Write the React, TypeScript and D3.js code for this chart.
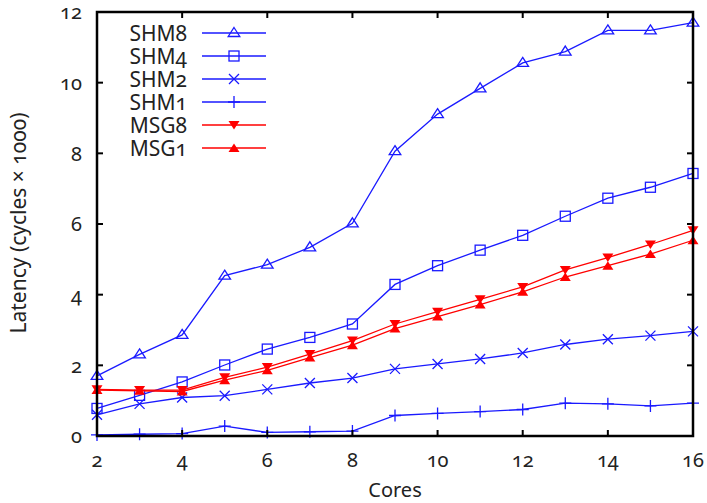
import React from "react";
import * as d3 from "d3";

const cores = [2, 3, 4, 5, 6, 7, 8, 9, 10, 11, 12, 13, 14, 15, 16];
const shm8 = [1.7, 2.31, 2.86, 4.54, 4.85, 5.34, 6.02, 8.06, 9.11, 9.84, 10.56, 10.88, 11.48, 11.48, 11.7];
const shm4 = [0.78, 1.15, 1.53, 2.01, 2.46, 2.79, 3.17, 4.29, 4.82, 5.26, 5.68, 6.22, 6.73, 7.04, 7.43];
const shm2 = [0.6, 0.91, 1.09, 1.14, 1.32, 1.5, 1.64, 1.9, 2.04, 2.18, 2.35, 2.59, 2.74, 2.84, 2.96];
const shm1 = [0.03, 0.05, 0.07, 0.28, 0.1, 0.12, 0.14, 0.58, 0.64, 0.69, 0.75, 0.93, 0.91, 0.85, 0.93];
const msg8 = [1.32, 1.3, 1.3, 1.66, 1.95, 2.32, 2.7, 3.17, 3.52, 3.87, 4.22, 4.7, 5.05, 5.42, 5.82];
const msg1 = [1.3, 1.28, 1.26, 1.58, 1.86, 2.22, 2.57, 3.04, 3.38, 3.72, 4.08, 4.5, 4.82, 5.15, 5.54];

const xTicks = [2, 4, 6, 8, 10, 12, 14, 16];
const yTicks = [0, 2, 4, 6, 8, 10, 12];

type Marker = "tri" | "square" | "cross" | "plus" | "triDownFill" | "triUpFill";

const seriesList: { name: string; values: number[]; color: string; marker: Marker }[] = [
  { name: "SHM8", values: shm8, color: "#1a1aff", marker: "tri" },
  { name: "SHM4", values: shm4, color: "#1a1aff", marker: "square" },
  { name: "SHM2", values: shm2, color: "#1a1aff", marker: "cross" },
  { name: "SHM1", values: shm1, color: "#1a1aff", marker: "plus" },
  { name: "MSG8", values: msg8, color: "#ff0000", marker: "triDownFill" },
  { name: "MSG1", values: msg1, color: "#ff0000", marker: "triUpFill" },
];

const W = 707;
const H = 503;
const left = 97;
const right = 693;
const top = 12;
const bottom = 436;

const FONT = "'Noto Sans', sans-serif";
const oldStyle = { fontVariantNumeric: "oldstyle-nums" } as React.CSSProperties;

function MarkerShape({ kind, x, y, color }: { kind: Marker; x: number; y: number; color: string }) {
  const s = 5;
  switch (kind) {
    case "tri":
      return (
        <path
          d={`M${x},${y - s - 0.5} L${x + s + 0.8},${y + s - 1.5} L${x - s - 0.8},${y + s - 1.5} Z`}
          fill="none"
          stroke={color}
          strokeWidth={1.3}
        />
      );
    case "square":
      return <rect x={x - 5} y={y - 5} width={10} height={10} fill="none" stroke={color} strokeWidth={1.3} />;
    case "cross":
      return (
        <path d={`M${x - 5},${y - 5} L${x + 5},${y + 5} M${x - 5},${y + 5} L${x + 5},${y - 5}`} stroke={color} strokeWidth={1.3} />
      );
    case "plus":
      return <path d={`M${x - 6},${y} L${x + 6},${y} M${x},${y - 6} L${x},${y + 6}`} stroke={color} strokeWidth={1.3} />;
    case "triDownFill":
      return <path d={`M${x - 5.5},${y - 4} L${x + 5.5},${y - 4} L${x},${y + 4.5} Z`} fill={color} />;
    case "triUpFill":
      return <path d={`M${x - 5.5},${y + 4} L${x + 5.5},${y + 4} L${x},${y - 4.5} Z`} fill={color} />;
  }
}

export default function App() {
  const x = d3.scaleLinear().domain([2, 16]).range([left, right]);
  const y = d3.scaleLinear().domain([0, 12]).range([bottom, top]);
  const line = d3
    .line<[number, number]>()
    .x((d) => x(d[0]))
    .y((d) => y(d[1]));

  const legendY = (i: number) => 33 + i * 23;

  return (
    <svg
      width={W}
      height={H}
      viewBox={`0 0 ${W} ${H}`}
      style={{ position: "absolute", left: 0, top: 0, background: "#fff" }}
      fontFamily={FONT}
    >
      {/* series lines and markers */}
      {seriesList.map((s) => {
        const pts = cores.map((c, i) => [c, s.values[i]] as [number, number]);
        return (
          <g key={s.name}>
            <path d={line(pts) ?? ""} fill="none" stroke={s.color} strokeWidth={1.3} />
            {pts.map((p, i) => (
              <MarkerShape key={i} kind={s.marker} x={x(p[0])} y={y(p[1])} color={s.color} />
            ))}
          </g>
        );
      })}

      {/* frame */}
      <rect x={left} y={top} width={right - left} height={bottom - top} fill="none" stroke="#000" strokeWidth={2.5} />

      {/* ticks */}
      {yTicks.map((t) => (
        <g key={"y" + t}>
          <line x1={left} x2={left + 6} y1={y(t)} y2={y(t)} stroke="#000" strokeWidth={2} />
          <line x1={right} x2={right - 6} y1={y(t)} y2={y(t)} stroke="#000" strokeWidth={2} />
          <text x={left - 15} y={y(t)} dy="0.36em" textAnchor="end" fontSize={20} fill="#222" style={oldStyle}>
            {t}
          </text>
        </g>
      ))}
      {xTicks.map((t) => (
        <g key={"x" + t}>
          <line x1={x(t)} x2={x(t)} y1={bottom} y2={bottom - 6} stroke="#000" strokeWidth={2} />
          <line x1={x(t)} x2={x(t)} y1={top} y2={top + 6} stroke="#000" strokeWidth={2} />
          <text x={x(t)} y={bottom + 31} textAnchor="middle" fontSize={20} fill="#222" style={oldStyle}>
            {t}
          </text>
        </g>
      ))}

      {/* axis titles */}
      <text x={(left + right) / 2} y={497} textAnchor="middle" fontSize={20} fill="#222">
        Cores
      </text>
      <text
        transform={`translate(26,${(top + bottom) / 2 - 1}) rotate(-90)`}
        textAnchor="middle"
        fontSize={21}
        fill="#222"
        style={oldStyle}
      >
        Latency (cycles × 1000)
      </text>

      {/* legend */}
      {seriesList.map((s, i) => (
        <g key={"lg" + s.name}>
          <text x={187} y={legendY(i)} dy="0.36em" textAnchor="end" fontSize={21} fill="#222" style={oldStyle}>
            {s.name}
          </text>
          <line x1={202} x2={266} y1={legendY(i)} y2={legendY(i)} stroke={s.color} strokeWidth={1.3} />
          <MarkerShape kind={s.marker} x={234} y={legendY(i)} color={s.color} />
        </g>
      ))}
    </svg>
  );
}
